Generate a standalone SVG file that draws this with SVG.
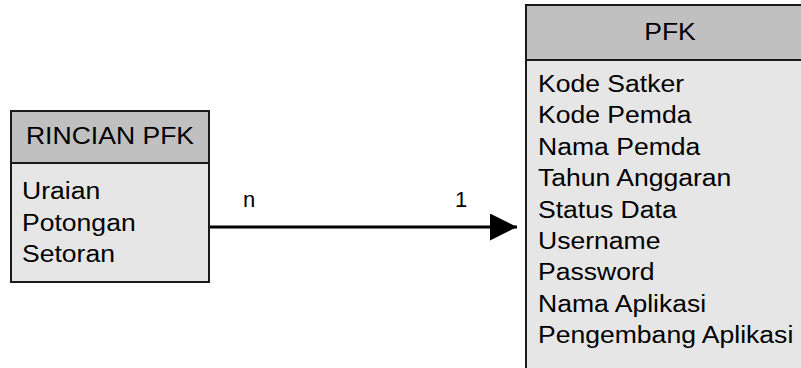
<svg xmlns="http://www.w3.org/2000/svg" width="801" height="368" viewBox="0 0 801 368">
<style>
.hdr{fill:#c0c0c0;stroke:#1a1a1a;stroke-width:2}
.body{fill:#e6e6e6;stroke:#1a1a1a;stroke-width:2}
text{font-family:"Liberation Sans",Arial,sans-serif;font-size:23.5px;fill:#000}
.c{text-anchor:middle}
.lbl{font-size:22px}
.conn{stroke:#000;stroke-width:3;fill:none}
</style>
<defs>
<marker id="arr" markerUnits="userSpaceOnUse" markerWidth="28" markerHeight="28" refX="27" refY="13.5" orient="auto">
<path d="M0,0 L27,13.5 L0,27 Z" fill="#000"/>
</marker>
</defs>
<rect width="801" height="368" fill="#fff"/>
<g id="rincian-pfk">
<rect class="body" x="11" y="111" width="198" height="171"/>
<rect class="hdr" x="11" y="111" width="198" height="52"/>
<text class="c" transform="matrix(1.13 0 0 1 110 144)">RINCIAN PFK</text>
<text transform="matrix(1.13 0 0 1 22 199)">Uraian</text>
<text transform="matrix(1.13 0 0 1 22 230.5)">Potongan</text>
<text transform="matrix(1.13 0 0 1 22 262)">Setoran</text>
</g>
<g id="pfk">
<rect class="body" x="526" y="5" width="290" height="380"/>
<rect class="hdr" x="526" y="5" width="290" height="55"/>
<text class="c" transform="matrix(1.13 0 0 1 670 40)">PFK</text>
<text transform="matrix(1.13 0 0 1 538 92)">Kode Satker</text>
<text transform="matrix(1.13 0 0 1 538 123.4)">Kode Pemda</text>
<text transform="matrix(1.13 0 0 1 538 154.8)">Nama Pemda</text>
<text transform="matrix(1.13 0 0 1 538 186.2)">Tahun Anggaran</text>
<text transform="matrix(1.13 0 0 1 538 217.6)">Status Data</text>
<text transform="matrix(1.13 0 0 1 538 249)">Username</text>
<text transform="matrix(1.13 0 0 1 538 280.4)">Password</text>
<text transform="matrix(1.13 0 0 1 538 311.8)">Nama Aplikasi</text>
<text transform="matrix(1.13 0 0 1 538 343.2)">Pengembang Aplikasi</text>
</g>
<g id="connectors">
<line class="conn" x1="210" y1="227" x2="517" y2="227" marker-end="url(#arr)"/>
<text class="lbl" x="243" y="207">n</text>
<text class="lbl" x="455" y="207">1</text>
</g>
</svg>
